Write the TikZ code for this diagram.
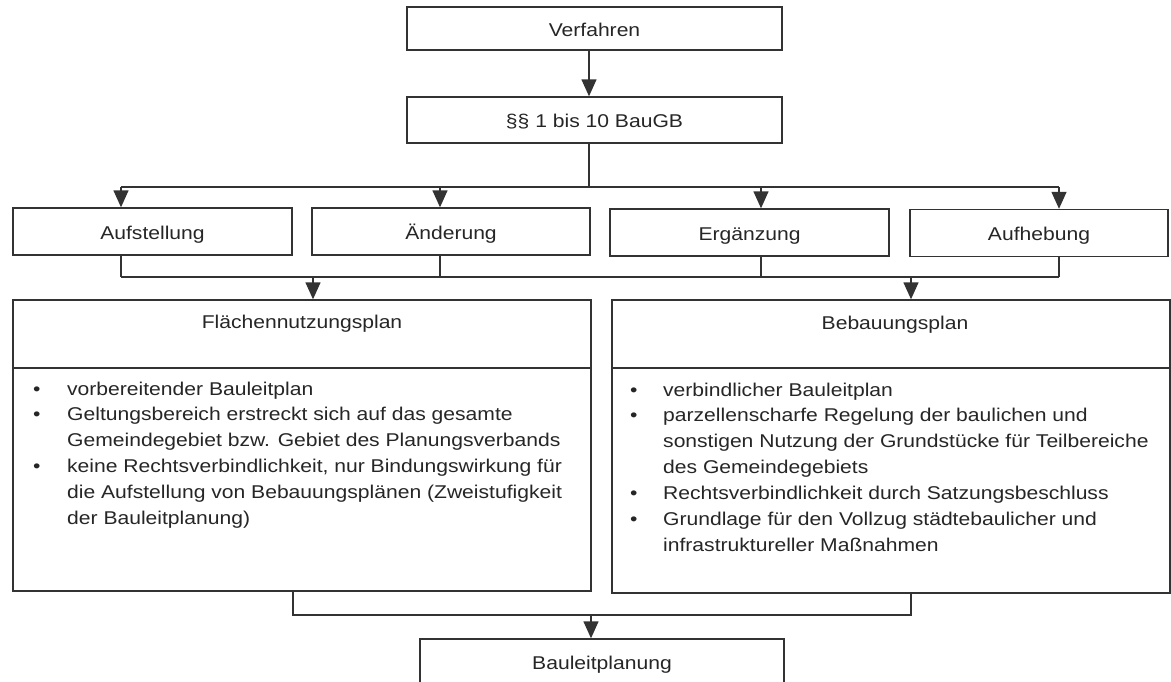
\documentclass[tikz,border=0pt]{standalone}
\usepackage{fontspec}
\setmainfont{Liberation Sans}[FakeStretch=1.14]
\usetikzlibrary{arrows.meta}
\begin{document}
\begin{tikzpicture}[x=1pt,y=-1pt,
  line/.style={draw=black!80,line width=1.4pt},
  arr/.style={draw=black!80,line width=1.4pt,-{Triangle[width=15pt,length=17pt]}},
  box/.style={draw=black!80,line width=1.4pt,rectangle,inner sep=0pt,text=black!85,
    text height=15pt,text depth=0pt,font=\fontsize{18.5}{25.9}\selectfont},
  lbl/.style={inner sep=0pt,text=black!85,font=\fontsize{18.5}{25.9}\selectfont}]
\useasboundingbox (0,0) rectangle (1171,681);
\clip (0,0) rectangle (1171,681);
\fill[white] (0,0) rectangle (1171,681);

% boxes
\node[box,minimum width=375pt,minimum height=43pt] (ver) at (594.5,28.5) {Verfahren};
\node[box,minimum width=375pt,minimum height=46pt] (par) at (594.5,120) {§§ 1 bis 10 BauGB};
\node[box,minimum width=279pt,minimum height=47pt] (auf) at (152.5,231.5) {Aufstellung};
\node[box,minimum width=278pt,minimum height=47pt] (aen) at (451,231.5) {Änderung};
\node[box,minimum width=279pt,minimum height=47pt] (erg) at (749.5,232.5) {Ergänzung};
\node[box,minimum width=258pt,minimum height=47pt] (aufh) at (1039,233) {Aufhebung};
\node[box,minimum width=578pt,minimum height=291pt] (fnp) at (302,445.5) {};
\node[box,minimum width=558pt,minimum height=293pt] (bpl) at (891,446.5) {};
\node[box,minimum width=364pt,minimum height=46pt] (bl) at (602,662) {Bauleitplanung};

% titles and dividers
\node[lbl] (fnpt) at (302,324) {Flächennutzungsplan};
\node[lbl] (bplt) at (895,325) {Bebauungsplan};
\coordinate (dv) at (0,368);
\draw[line] (fnp.west |- dv) -- (fnp.east |- dv);
\draw[line] (bpl.west |- dv) -- (bpl.east |- dv);

% bullet lists
\node[lbl,anchor=base west] (fnpl) at (33,395) {%
\begin{tabular}[t]{@{}p{34pt}@{}l@{}}
• & vorbereitender Bauleitplan\\
• & Geltungsbereich erstreckt sich auf das gesamte\\
  & Gemeindegebiet bzw. Gebiet des Planungsverbands\\
• & keine Rechtsverbindlichkeit, nur Bindungswirkung für\\
  & die Aufstellung von Bebauungsplänen (Zweistufigkeit\\
  & der Bauleitplanung)
\end{tabular}};
\node[lbl,anchor=base west] (bpll) at (630,396) {%
\begin{tabular}[t]{@{}p{33pt}@{}l@{}}
• & verbindlicher Bauleitplan\\
• & parzellenscharfe Regelung der baulichen und\\
  & sonstigen Nutzung der Grundstücke für Teilbereiche\\
  & des Gemeindegebiets\\
• & Rechtsverbindlichkeit durch Satzungsbeschluss\\
• & Grundlage für den Vollzug städtebaulicher und\\
  & infrastruktureller Maßnahmen
\end{tabular}};

% connectors
\coordinate (k0) at (589,187);
\coordinate (ka) at (121,187);
\coordinate (kb) at (440,187);
\coordinate (kc) at (761,187);
\coordinate (kd) at (1059,187);
\coordinate (b2) at (0,277);
\coordinate (kf) at (313,277);
\coordinate (kk) at (911,277);
\coordinate (kg) at (293,615);
\coordinate (kh) at (911,615);
\coordinate (ki) at (591,615);
\coordinate (kv) at (589,0);

\draw[arr] (ver.south -| kv) -- (par.north -| kv);
\draw[line] (par.south -| k0) -- (k0);
\draw[line] (ka) -- (kd);
\draw[arr] (ka) -- (ka |- auf.north);
\draw[arr] (kb) -- (kb |- aen.north);
\draw[arr] (kc) -- (kc |- erg.north);
\draw[arr] (kd) -- (kd |- aufh.north);

\draw[line] (auf.south -| ka) -- (ka |- b2);
\draw[line] (aen.south -| kb) -- (kb |- b2);
\draw[line] (erg.south -| kc) -- (kc |- b2);
\draw[line] (aufh.south -| kd) -- (kd |- b2);
\draw[line] (ka |- b2) -- (kd |- b2);
\draw[arr] (kf) -- (kf |- fnp.north);
\draw[arr] (kk) -- (kk |- bpl.north);

\draw[line] (fnp.south -| kg) -- (kg) -- (kh) -- (bpl.south -| kh);
\draw[arr] (ki) -- (ki |- bl.north);
\end{tikzpicture}
\end{document}
